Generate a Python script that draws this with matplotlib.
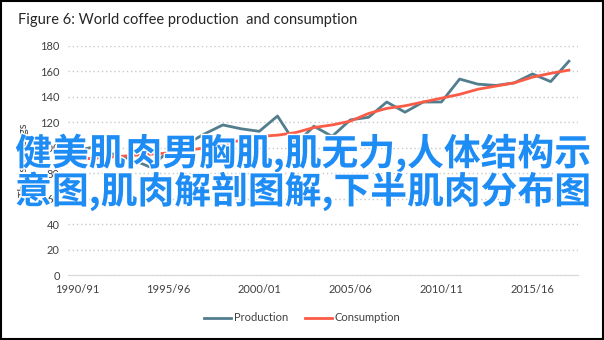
import matplotlib
matplotlib.use("Agg")
import matplotlib.pyplot as plt
import matplotlib.patheffects as pe
from matplotlib.patches import Rectangle

# crop years 1990/91 .. 2017/18
seasons = ["%d/%02d" % (y, (y + 1) % 100) for y in range(1990, 2018)]

production = [98, 101, 95, 91, 85, 97, 103, 111, 118, 115,
              113, 125, 103, 117, 109, 122, 124, 136, 128, 136,
              136, 154, 150, 149, 151, 158, 152, 168]
consumption = [91, 92, 93, 94, 95, 96, 98, 100, 103, 106,
               109, 110, 112, 116, 118, 121, 127, 131, 133, 136,
               139, 142, 146, 148.5, 151, 155.5, 158.5, 161]

overlay = "健美肌肉男胸肌,肌无力,人体结构示\n意图,肌肉解剖图解,下半肌肉分布图"

plt.rcParams['font.family'] = ['Lato', 'DejaVu Sans']

fig = plt.figure(figsize=(6.04, 3.40), dpi=100)
ax = fig.add_axes([0.1126, 0.19, 0.8444, 0.675])

x = range(len(seasons))
ax.plot(x, production, color='#527d8e', lw=2.0, label='Production', zorder=3)
ax.plot(x, consumption, color='#fa5c47', lw=2.0, label='Consumption', zorder=3)

ax.set_xlim(-0.5, len(seasons) - 0.5)
ax.set_ylim(0, 180)
ax.set_yticks(range(0, 181, 20))
ax.set_xticks(range(0, len(seasons), 5))
ax.set_xticklabels(seasons[::5])
ax.tick_params(length=0, labelsize=8, colors='#404040', pad=6)
ax.yaxis.grid(True, color='#c8c8c8', linestyle=(0, (1, 2)), lw=1)
for s in ['top', 'right', 'left']:
    ax.spines[s].set_visible(False)
ax.spines['bottom'].set_color('#d9d9d9')
ax.set_ylabel('Thousand bags', fontsize=8, color='#404040', labelpad=8)

fig.text(0.03, 0.94, 'Figure 6: World coffee production  and consumption',
         fontsize=10.5, color='#262626', va='center')

fig.legend(loc='center', bbox_to_anchor=(0.5, 0.065), ncol=2, frameon=False,
           fontsize=8, handlelength=2.5, handletextpad=0.2, columnspacing=1.5,
           labelcolor='#404040')

fig.text(0.025, 0.493, overlay, fontsize=26.5, color='#1e8cf5', fontweight='bold',
         family=['Noto Sans CJK SC', 'DejaVu Sans'], va='center', ha='left',
         linespacing=0.95, zorder=10,
         path_effects=[pe.withStroke(linewidth=2, foreground='white')])

fig.patches.append(Rectangle((0.002, 0.003), 0.996, 0.994, transform=fig.transFigure,
                             fill=False, edgecolor='black', lw=1.5))

fig.savefig('out.png', dpi=100)
